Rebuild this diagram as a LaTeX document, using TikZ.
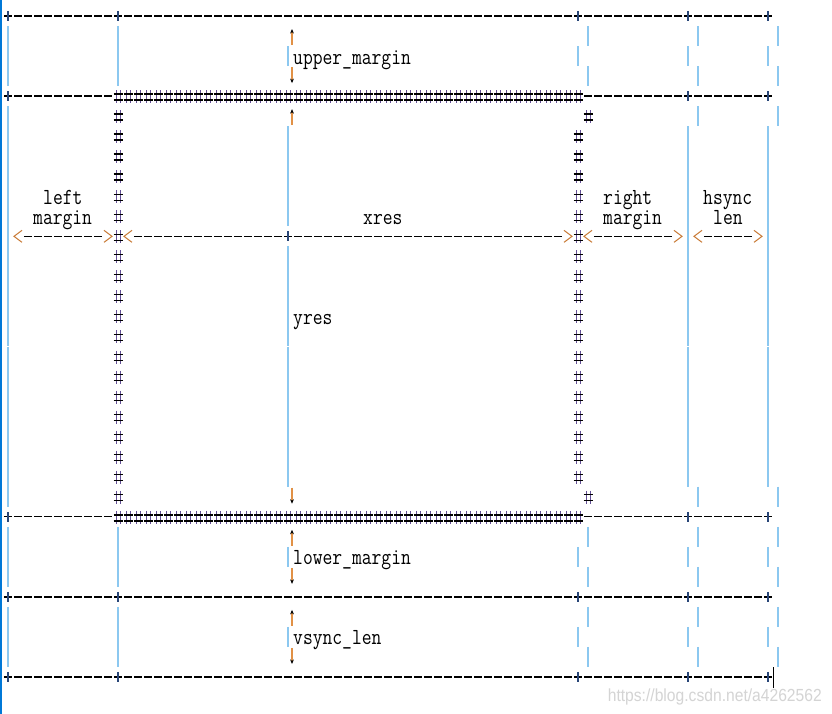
\documentclass[tikz,border=0pt]{standalone}
\usepackage{fontspec}
\newfontfamily\wmfont{Liberation Sans}
\usetikzlibrary{arrows.meta}
\definecolor{barc}{RGB}{140,200,240}
\definecolor{chev}{RGB}{200,120,50}
\definecolor{hashv}{RGB}{100,80,150}
\definecolor{shaftc}{RGB}{225,145,70}
\definecolor{edgec}{RGB}{0,120,215}
\definecolor{wmc}{RGB}{212,212,212}
\definecolor{plusv}{RGB}{40,70,120}
% vertical bar glyph
\newcommand\VB[2]{\draw[vbar] ({8+10*(#1)},{16+20.03*(#2)-10}) -- ++(0,20);}
% dashed row from col #2 to col #3 on row #1
\newcommand\DR[3]{\draw[dashrow] ({8+10*(#2)-4},{16+20.03*(#1)}) -- ({8+10*(#3)+4},{16+20.03*(#1)});}
% plus glyph vertical stroke
\newcommand\PL[2]{\draw[plusstroke] ({8+10*(#1)},{16+20.03*(#2)-5}) -- ++(0,10);}
% hash glyph
\newcommand\HS[2]{%
  \draw[hashvert] ({8+10*(#1)-2},{16+20.03*(#2)-6}) -- ++(0,13)
                  ({8+10*(#1)+2},{16+20.03*(#2)-6}) -- ++(0,13);
  \draw[hashhor] ({8+10*(#1)-4.5},{16+20.03*(#2)-2}) -- ++(9,0)
                 ({8+10*(#1)-4.5},{16+20.03*(#2)+4}) -- ++(9,0);}
% chevrons
\newcommand\LT[2]{\draw[chevron] ({8+10*(#1)+4},{16+20.03*(#2)-6}) -- ({8+10*(#1)-4},{16+20.03*(#2)}) -- ({8+10*(#1)+4},{16+20.03*(#2)+6});}
\newcommand\GT[2]{\draw[chevron] ({8+10*(#1)-4},{16+20.03*(#2)-6}) -- ({8+10*(#1)+4},{16+20.03*(#2)}) -- ({8+10*(#1)-4},{16+20.03*(#2)+6});}
% up / down arrows (full-width glyph)
\newcommand\UA[1]{\draw[shaft] (292,{16+20.03*(#1)+9}) -- (292,{16+20.03*(#1)-7});}
\newcommand\DA[1]{\draw[shaft] (292,{16+20.03*(#1)-9}) -- (292,{16+20.03*(#1)+7});}
\newcommand\mt[1]{\scalebox{0.828}[1]{#1}}
\begin{document}
\begin{tikzpicture}[x=1pt,y=-1pt,
  vbar/.style={draw=barc,line width=1.8pt},
  dashrow/.style={draw=black,line width=1.3pt,dash pattern=on 8pt off 2pt},
  plusstroke/.style={draw=plusv,line width=1.1pt},
  hashvert/.style={draw=hashv,line width=0.9pt},
  hashhor/.style={draw=black,line width=1.5pt},
  chevron/.style={draw=chev,line width=1pt},
  shaft/.style={draw=shaftc,line width=1.1pt,-{Stealth[color=black,length=4.5pt,width=3.8pt]}},
  lbl/.style={inner sep=0pt,anchor=base west,font=\fontsize{23}{23}\selectfont\ttfamily}]
\useasboundingbox (0,0) rectangle (832,714);
\fill[white] (0,0) rectangle (832,714);
\draw[edgec,line width=1.5pt] (0.75,0) -- (0.75,714);

% full border rows
\foreach \r in {0,29,33}{
  \DR{\r}{0}{76}
  \foreach \c in {0,11,57,68,76}{\PL{\c}{\r}}
}
% hash rows
\foreach \r in {4,25}{
  \DR{\r}{0}{10}
  \DR{\r}{58}{76}
  \foreach \c in {0,68,76}{\PL{\c}{\r}}
  \foreach \c in {11,...,57}{\HS{\c}{\r}}
}
% rows with arrows outside the box (full-width arrow shifts the rest)
\foreach \r in {1,3,26,28,30,32}{
  \foreach \c in {0,11,58,69,77}{\VB{\c}{\r}}
}
\foreach \r in {1,26,30}{\UA{\r}}
\foreach \r in {3,28,32}{\DA{\r}}
% label rows outside the box
\foreach \r in {2,27,31}{
  \foreach \c in {0,11,28,57,68,76}{\VB{\c}{\r}}
}
% box rows with arrows
\foreach \r in {5,24}{
  \foreach \c in {0,69,77}{\VB{\c}{\r}}
  \HS{11}{\r}\HS{58}{\r}
}
\UA{5}
\DA{24}
% ordinary box rows
\foreach \r in {6,...,10,12,13,...,23}{
  \foreach \c in {0,28,68,76}{\VB{\c}{\r}}
  \HS{11}{\r}\HS{57}{\r}
}
% the measuring row
\foreach \c in {0,68,76}{\VB{\c}{11}}
\HS{11}{11}\HS{57}{11}
\LT{1}{11}\DR{11}{2}{9}\GT{10}{11}
\LT{12}{11}\DR{11}{13}{55}\PL{28}{11}\GT{56}{11}
\LT{58}{11}\DR{11}{59}{66}\GT{67}{11}
\LT{69}{11}\DR{11}{70}{74}\GT{75}{11}

% labels
\node[lbl] (upper) at ({8+10*29-5},{16+20.03*2+8}) {\mt{upper\_margin}};
\node[lbl] (lower) at ({8+10*29-5},{16+20.03*27+8}) {\mt{lower\_margin}};
\node[lbl] (vsync) at ({8+10*29-5},{16+20.03*31+8}) {\mt{vsync\_len}};
\node[lbl] (yres) at ({8+10*29-5},{16+20.03*15+8}) {\mt{yres}};
\node[lbl] (xres) at ({8+10*36-5},{16+20.03*10+8}) {\mt{xres}};
\node[lbl] (left) at ({8+10*4-5},{16+20.03*9+8}) {\mt{left}};
\node[lbl] (lmargin) at ({8+10*3-5},{16+20.03*10+8}) {\mt{margin}};
\node[lbl] (right) at ({8+10*60-5},{16+20.03*9+8}) {\mt{right}};
\node[lbl] (rmargin) at ({8+10*60-5},{16+20.03*10+8}) {\mt{margin}};
\node[lbl] (hsync) at ({8+10*70-5},{16+20.03*9+8}) {\mt{hsync}};
\node[lbl] (len) at ({8+10*71-5},{16+20.03*10+8}) {\mt{len}};

% cursor and watermark
\draw[black,line width=1pt] (773,667) -- (773,688);
\node[inner sep=0pt,anchor=base east,text=wmc,font=\wmfont\fontsize{17.5}{17.5}\selectfont] (wm) at (822,701) {\scalebox{0.894}[1]{https://blog.csdn.net/a4262562}};
\end{tikzpicture}
\end{document}
